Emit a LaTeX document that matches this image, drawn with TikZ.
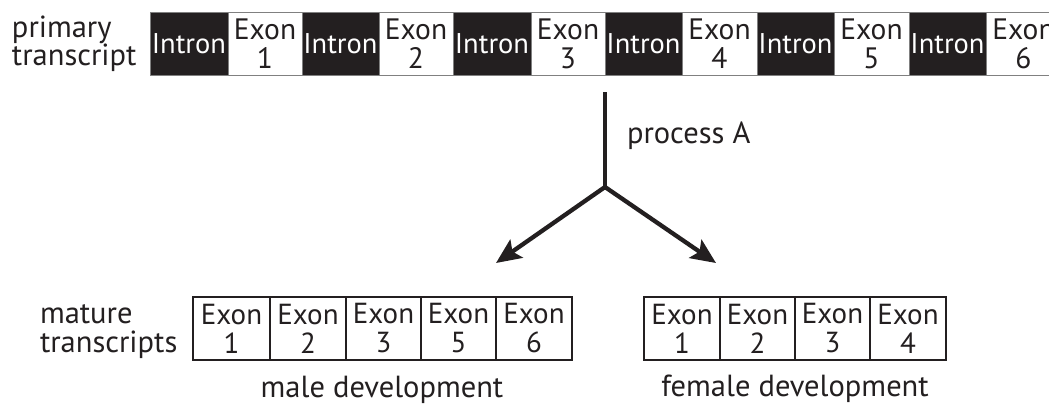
\documentclass[tikz,border=0pt]{standalone}
\usepackage{fontspec}
\setmainfont{PT Sans}
\usetikzlibrary{arrows.meta}
\definecolor{ink}{HTML}{231F20}
\begin{document}
\begin{tikzpicture}[x=1pt,y=-1pt,
  every node/.style={inner sep=0pt,outer sep=0pt,text=ink},
  txt/.style={font=\fontsize{30.5}{30}\selectfont},
  intronseg/.style={draw=gray,line width=0.8pt,fill=ink,text=white,anchor=north west,minimum height=63pt,font=\fontsize{28.5}{28}\selectfont},
  exonseg/.style={draw=gray,line width=0.8pt,fill=white,anchor=north west,minimum height=63pt,align=center,font=\fontsize{29.5}{29}\selectfont},
  cell/.style={draw=ink,line width=1.5pt,fill=white,anchor=north west,minimum height=63pt,minimum width=75pt,align=center,font=\fontsize{29}{29}\selectfont},
  lbl/.style={txt,anchor=base west},
  flow/.style={draw=ink,line width=4.3pt},
  tip/.style={-{Stealth[length=25pt,width=22pt,inset=5pt]}}
]
\useasboundingbox (0,0) rectangle (1049,407);
\fill[white] (0,0) rectangle (1049,407);

% left labels
\node[lbl] (p1) at (12,37) {primary};
\node[lbl] (p2) at (12,65) {transcript};

% primary transcript bar
\begin{scope}
\clip (0,0) rectangle (1049,407);
\node[intronseg,minimum width=78pt] (i1) at (150,12) {Intron};
\node[exonseg,minimum width=74pt] (e1) at (228,12) {Exon\\1};
\node[intronseg,minimum width=77pt] (i2) at (302,12) {Intron};
\node[exonseg,minimum width=74pt] (e2) at (379,12) {Exon\\2};
\node[intronseg,minimum width=78pt] (i3) at (453,12) {Intron};
\node[exonseg,minimum width=74pt] (e3) at (531,12) {Exon\\3};
\node[intronseg,minimum width=77pt] (i4) at (605,12) {Intron};
\node[exonseg,minimum width=75pt] (e4) at (682,12) {Exon\\4};
\node[intronseg,minimum width=77pt] (i5) at (757,12) {Intron};
\node[exonseg,minimum width=75pt] (e5) at (834,12) {Exon\\5};
\node[intronseg,minimum width=77pt] (i6) at (909,12) {Intron};
\node[exonseg,minimum width=75pt] (e6) at (986,12) {Exon\\6};
\end{scope}

% process A
\coordinate (top) at (605,92);
\coordinate (junc) at (605,187);
\coordinate (tipL) at (496,263);
\coordinate (tipR) at (716,263);
\draw[flow] (top) -- (junc);
\draw[flow,tip] (junc) -- (tipL);
\draw[flow,tip] (junc) -- (tipR);
\fill[ink] (junc) circle (2.1pt);
\node[lbl] (procA) at (627,143) {process A};

% mature transcripts
\node[lbl] (m1) at (40,323) {mature};
\node[lbl] (m2) at (40,352) {transcripts};

% male
\node[cell,minimum width=77pt] (ma1) at (193,297) {Exon\\1};
\node[cell,minimum width=76pt] (ma2) at (270,297) {Exon\\2};
\node[cell,minimum width=75pt] (ma3) at (346,297) {Exon\\3};
\node[cell,minimum width=75pt] (ma5) at (421,297) {Exon\\5};
\node[cell,minimum width=76pt] (ma6) at (496,297) {Exon\\6};
\node[txt,anchor=base] (male) at (382,397) {male development};

% female
\node[cell,minimum width=76pt] (fe1) at (644,297) {Exon\\1};
\node[cell,minimum width=75pt] (fe2) at (720,297) {Exon\\2};
\node[cell,minimum width=75pt] (fe3) at (795,297) {Exon\\3};
\node[cell,minimum width=76pt] (fe4) at (870,297) {Exon\\4};
\node[txt,anchor=base] (female) at (795,396) {female development};
\end{tikzpicture}
\end{document}
